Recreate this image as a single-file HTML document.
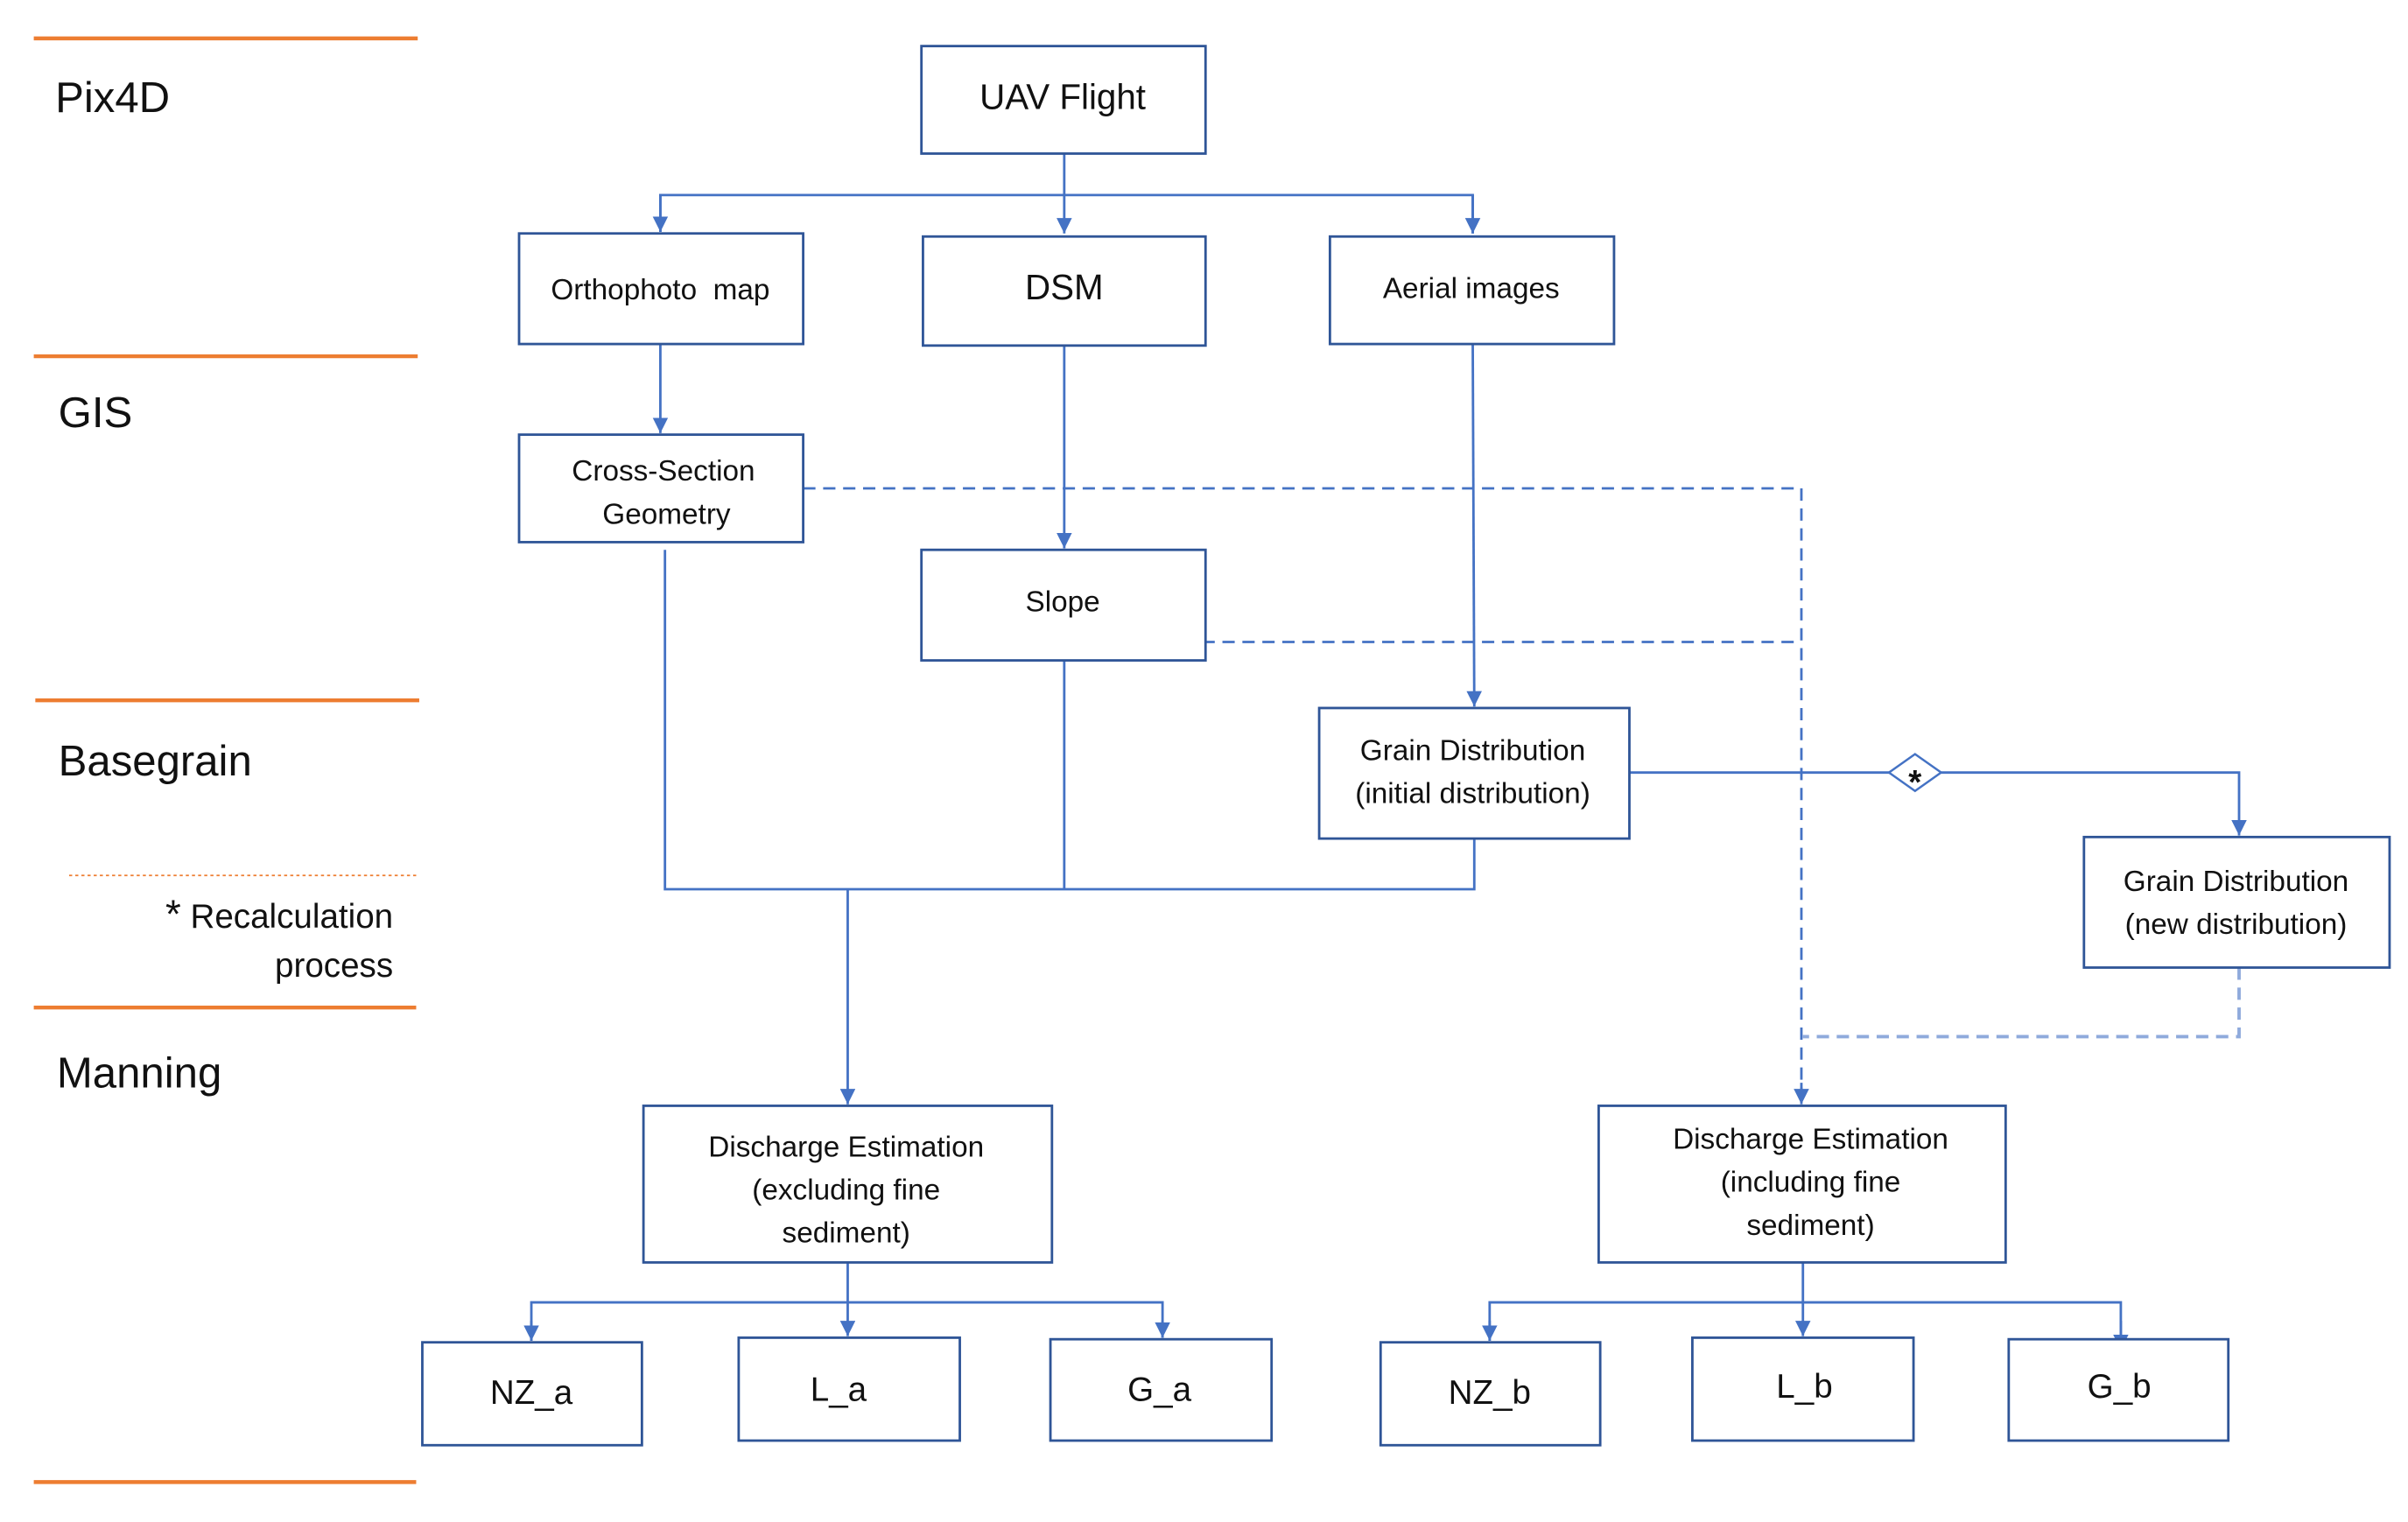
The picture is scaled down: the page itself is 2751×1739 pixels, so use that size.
<!DOCTYPE html>
<html><head><meta charset="utf-8"><style>
html,body{margin:0;padding:0;background:#fff;}
svg{display:block;}
text{font-family:"Liberation Sans",sans-serif;fill:#111;}
</style></head><body>
<svg width="2751" height="1739" viewBox="0 0 1568 991" preserveAspectRatio="none" xmlns="http://www.w3.org/2000/svg">
<defs>
<marker id="a" viewBox="0 0 10 10" refX="10" refY="5" markerWidth="10" markerHeight="10" markerUnits="userSpaceOnUse" orient="auto"><path d="M0,0 L10,5 L0,10 z" fill="#4472c4"/></marker>
</defs>
<!-- orange lanes -->
<g stroke="#ed7d31" stroke-width="2.5">
<line x1="22" y1="25" x2="272" y2="25"/>
<line x1="22" y1="232" x2="272" y2="232"/>
<line x1="23" y1="456" x2="273" y2="456"/>
<line x1="22" y1="656" x2="271" y2="656"/>
<line x1="22" y1="965" x2="271" y2="965"/>
</g>
<line x1="45" y1="570" x2="272" y2="570" stroke="#ed7d31" stroke-width="1" stroke-dasharray="2,2"/>
<g font-size="28">
<text x="36" y="73">Pix4D</text>
<text x="38" y="278">GIS</text>
<text x="38" y="505">Basegrain</text>
<text x="37" y="708">Manning</text>
</g>
<g font-size="22" text-anchor="end">
<text x="256" y="604"><tspan font-size="26">*</tspan> Recalculation</text>
<text x="256" y="636">process</text>
</g>

<!-- connectors solid -->
<g stroke="#4472c4" stroke-width="1.6" fill="none">
<line x1="693" y1="100" x2="693" y2="152" marker-end="url(#a)"/>
<polyline points="430,151 430,127 959,127 959,152" />
<line x1="430" y1="127" x2="430" y2="151" marker-end="url(#a)"/>
<line x1="959" y1="127" x2="959" y2="152" marker-end="url(#a)"/>
<line x1="430" y1="224" x2="430" y2="282" marker-end="url(#a)"/>
<line x1="693" y1="225" x2="693" y2="357" marker-end="url(#a)"/>
<line x1="959" y1="224" x2="960" y2="460" marker-end="url(#a)"/>
<polyline points="433,358 433,579 960,579 960,546"/>
<line x1="693" y1="430" x2="693" y2="579"/>
<line x1="552" y1="579" x2="552" y2="719" marker-end="url(#a)"/>
<line x1="1061" y1="503" x2="1231" y2="503"/>
<polyline points="1264,503 1458,503 1458,544" marker-end="url(#a)"/>
<line x1="552" y1="822" x2="552" y2="870" marker-end="url(#a)"/>
<polyline points="346,873 346,848 757,848 757,871"/>
<line x1="346" y1="860" x2="346" y2="873" marker-end="url(#a)"/>
<line x1="757" y1="860" x2="757" y2="871" marker-end="url(#a)"/>
<line x1="1174" y1="822" x2="1174" y2="870" marker-end="url(#a)"/>
<polyline points="970,873 970,848 1381,848 1381,871"/>
<line x1="970" y1="860" x2="970" y2="873" marker-end="url(#a)"/>
<line x1="1381" y1="860" x2="1381" y2="879" marker-end="url(#a)"/>
</g>
<!-- dashed -->
<g stroke="#4472c4" stroke-width="1.6" fill="none" stroke-dasharray="8,5">
<polyline points="523,318 1173,318 1173,712"/>
<line x1="783" y1="418" x2="1173" y2="418"/>
<polyline points="1458,630 1458,675 1174,675" stroke="#8faadc" stroke-width="2.2"/>
</g>
<line x1="1173" y1="705" x2="1173" y2="719" stroke="#4472c4" stroke-width="1.6" marker-end="url(#a)"/>
<!-- diamond -->
<polygon points="1230,503 1247,491 1264,503 1247,515" fill="#fff" stroke="#4472c4" stroke-width="1.4"/>
<text x="1247" y="517" font-size="22" text-anchor="middle" font-weight="bold">*</text>

<!-- boxes -->
<g fill="#fff" stroke="#2f5597" stroke-width="1.6">
<rect x="600" y="30" width="185" height="70"/>
<rect x="338" y="152" width="185" height="72"/>
<rect x="601" y="154" width="184" height="71"/>
<rect x="866" y="154" width="185" height="70"/>
<rect x="338" y="283" width="185" height="70"/>
<rect x="600" y="358" width="185" height="72"/>
<rect x="859" y="461" width="202" height="85"/>
<rect x="1357" y="545" width="199" height="85"/>
<rect x="419" y="720" width="266" height="102"/>
<rect x="1041" y="720" width="265" height="102"/>
<rect x="275" y="874" width="143" height="67"/>
<rect x="481" y="871" width="144" height="67"/>
<rect x="684" y="872" width="144" height="66"/>
<rect x="899" y="874" width="143" height="67"/>
<rect x="1102" y="871" width="144" height="67"/>
<rect x="1308" y="872" width="143" height="66"/>
</g>
<g text-anchor="middle" font-size="19">
<text x="692" y="71" font-size="23">UAV Flight</text>
<text x="430" y="195">Orthophoto&#160; map</text>
<text x="693" y="195" font-size="23">DSM</text>
<text x="958" y="194">Aerial images</text>
<text x="432" y="313">Cross-Section</text>
<text x="434" y="341">Geometry</text>
<text x="692" y="398">Slope</text>
<text x="959" y="495">Grain Distribution</text>
<text x="959" y="523">(initial distribution)</text>
<text x="1456" y="580">Grain Distribution</text>
<text x="1456" y="608">(new distribution)</text>
<text x="551" y="753">Discharge Estimation</text>
<text x="551" y="781">(excluding fine</text>
<text x="551" y="809">sediment)</text>
<text x="1179" y="748">Discharge Estimation</text>
<text x="1179" y="776">(including fine</text>
<text x="1179" y="804">sediment)</text>
<g font-size="22">
<text x="346" y="914">NZ_a</text>
<text x="546" y="912">L_a</text>
<text x="755" y="912">G_a</text>
<text x="970" y="914">NZ_b</text>
<text x="1175" y="910">L_b</text>
<text x="1380" y="910">G_b</text>
</g>
</g>
</svg>
</body></html>
